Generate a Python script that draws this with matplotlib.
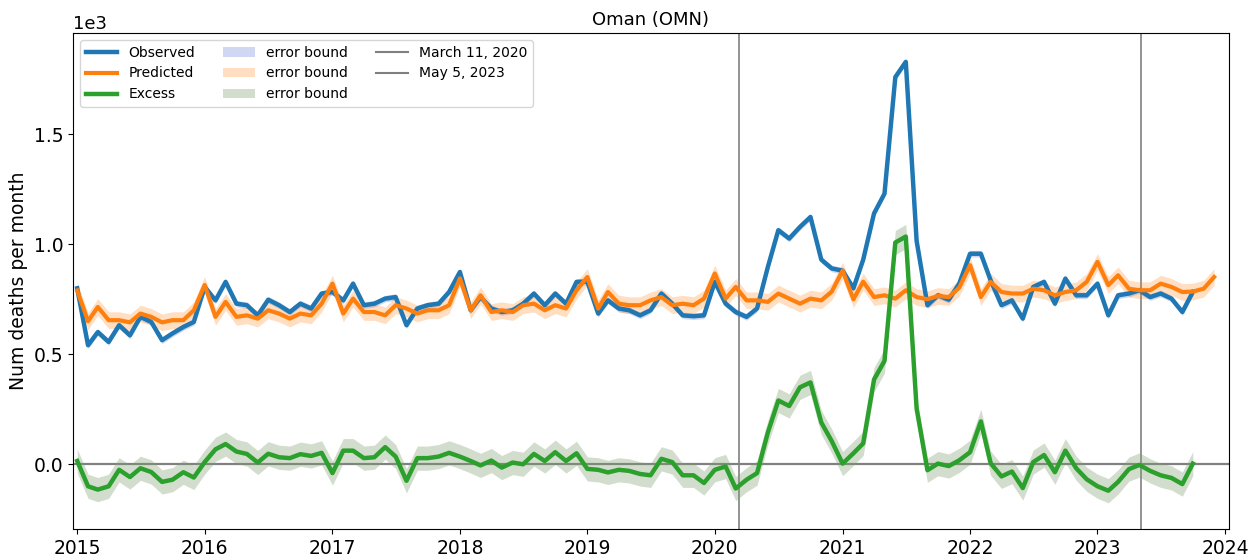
import datetime as dt
import numpy as np
import matplotlib
matplotlib.use("Agg")
import matplotlib.pyplot as plt
import matplotlib.dates as mdates

plt.rcParams['font.family'] = ['DejaVu Sans']

# monthly values, Jan 2015 .. Dec 2023
months = [dt.datetime(2015 + i // 12, i % 12 + 1, 1) for i in range(108)]

observed = [
    800, 541, 601, 556, 632, 586, 670, 647, 564, 595, 624, 647,      # 2015
    806, 745, 829, 730, 723, 677, 748, 723, 692, 730, 708, 776,      # 2016
    783, 745, 821, 723, 730, 753, 760, 632, 708, 723, 730, 783,      # 2017
    874, 700, 760, 708, 692, 700, 730, 776, 723, 776, 730, 829,      # 2018
    830, 685, 745, 708, 700, 677, 700, 776, 730, 677, 673, 677,      # 2019
    829, 730, 692, 670, 708, 897, 1064, 1026, 1079, 1124, 930, 890,  # 2020
    880, 800, 930, 1140, 1230, 1760, 1829, 1015, 723, 768, 748, 821, # 2021
    957, 957, 836, 723, 745, 662, 806, 829, 730, 844, 768, 768,      # 2022
    821, 677, 768, 776, 791, 760, 776, 753, 692, 783,                # 2023 (to Oct)
]
predicted = [
    790, 650, 715, 655, 655, 645, 685, 670, 645, 655, 655, 700,
    815, 670, 738, 670, 677, 662, 700, 685, 662, 685, 677, 730,
    821, 685, 753, 692, 692, 677, 723, 708, 685, 700, 700, 723,
    845, 700, 768, 692, 700, 692, 723, 730, 700, 723, 708, 791,
    851, 708, 783, 730, 723, 723, 745, 760, 723, 730, 723, 753,
    867, 753, 806, 745, 745, 738, 776, 753, 730, 753, 745, 785,
    880, 750, 830, 760, 768, 753, 791, 760, 750, 765, 760, 803,
    905, 760, 829, 783, 776, 776, 798, 791, 768, 783, 791, 829,
    920, 814, 859, 798, 791, 791, 821, 806, 783, 785, 798, 851,
]
excess = [
    15, -100, -115, -100, -25, -58, -18, -35, -80, -70, -36, -60,
    10, 68, 92, 58, 47, 8, 48, 32, 28, 46, 38, 52,
    -40, 62, 62, 28, 32, 78, 35, -75, 28, 28, 35, 52,
    35, 15, -5, 17, -15, 8, 0, 47, 15, 55, 15, 50,
    -21, -25, -37, -25, -30, -44, -50, 25, 10, -50, -50, -85,
    -25, -10, -110, -70, -40, 145, 290, 265, 350, 372, 190, 105,
    3, 50, 95, 385, 470, 1008, 1035, 253, -27, 3, -8, 18,
    55, 195, 5, -55, -33, -108, 10, 42, -36, 62, -18, -68,
    -100, -120, -80, -22, -3, -30, -50, -62, -90, 3,
]
obs_err, pred_err, exc_err = 15, 38, 55

events = [(dt.datetime(2020, 3, 11), "March 11, 2020"),
          (dt.datetime(2023, 5, 5), "May 5, 2023")]

fig = plt.figure(figsize=(12.59, 5.6), dpi=100)
ax = fig.add_axes([0.058, 0.055, 0.918, 0.886])

t_obs = months[:len(observed)]
obs = np.array(observed, float)
pred = np.array(predicted, float)
exc = np.array(excess, float)

ax.axhline(0, color="gray", lw=1.6, zorder=1)
for d, lab in events:
    ax.axvline(d, color="gray", lw=1.2, label=lab, zorder=1)

b1 = ax.fill_between(t_obs, obs - obs_err, obs + obs_err, color="#4060d0", alpha=0.25, lw=0)
b2 = ax.fill_between(months, pred - pred_err, pred + pred_err, color="#ff7f0e", alpha=0.25, lw=0)
b3 = ax.fill_between(t_obs, exc - exc_err, exc + exc_err, color="#7fa070", alpha=0.35, lw=0)
l1, = ax.plot(t_obs, obs, color="#1f77b4", lw=3.2)
l2, = ax.plot(months, pred, color="#ff7f0e", lw=3.0)
l3, = ax.plot(t_obs, exc, color="#2ca02c", lw=3.2)

v1 = plt.Line2D([], [], color="gray", lw=1.5)
v2 = plt.Line2D([], [], color="gray", lw=1.5)
ax.legend([l1, l2, l3, b1, b2, b3, v1, v2],
          ["Observed", "Predicted", "Excess", "error bound", "error bound",
           "error bound", events[0][1], events[1][1]],
          ncol=3, loc="upper left", fontsize=10, handlelength=2.3)

ax.set_xlim(dt.datetime(2014, 12, 20), dt.datetime(2024, 1, 12))
ax.set_ylim(-295, 1960)
ax.xaxis.set_major_locator(mdates.YearLocator())
ax.xaxis.set_major_formatter(mdates.DateFormatter("%Y"))
ax.ticklabel_format(axis="y", style="sci", scilimits=(3, 3))
ax.yaxis.get_offset_text().set_fontsize(13)
ax.tick_params(labelsize=13.5)
ax.set_title("Oman (OMN)", fontsize=13)
ax.set_ylabel("Num deaths per month", fontsize=13.5)

fig.savefig("out.png", dpi=100)
